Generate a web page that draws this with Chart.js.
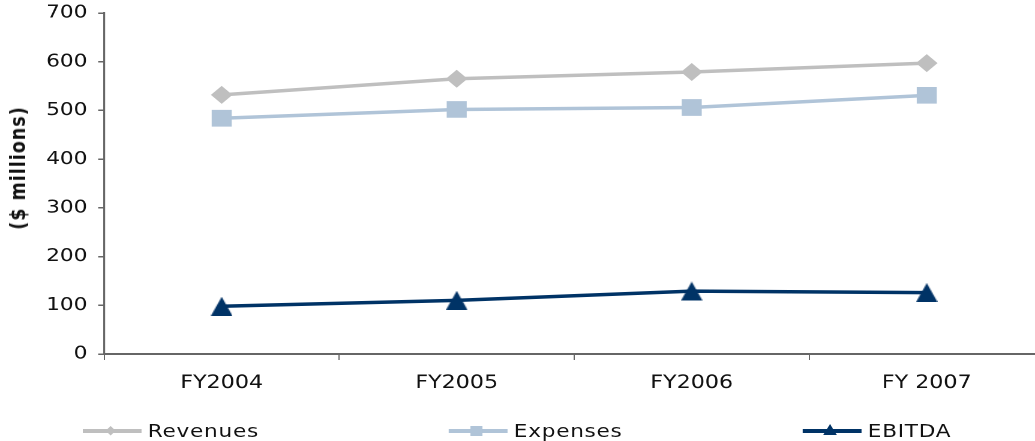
<!DOCTYPE html>
<html>
<head>
<meta charset="utf-8">
<script src="https://cdn.jsdelivr.net/npm/chart.js@4.4.1/dist/chart.umd.min.js"></script>
<style>
  html, body { margin: 0; padding: 0; background: #fff; overflow: hidden; width: 1035px; height: 441px; }
  /* the whole drawing is laid out narrow and widened by 1.2 */
  #wrap { position: absolute; left: 0; top: 0; width: 882px; height: 441px; transform: scaleX(1.2); transform-origin: 0 0; }
  #ytitle { position: absolute; left: 15.4px; top: 168px; transform: translate(-50%, -50%) rotate(-90deg);
            white-space: nowrap; font: bold 17.5px "DejaVu Sans", sans-serif; letter-spacing: 1px; color: #111; }
  .item { position: absolute; top: 430.5px; height: 0; }
  .item .ln { position: absolute; top: -2px; height: 4px; }
  .item svg { position: absolute; overflow: visible; }
  .item .tx { position: absolute; top: -11px; white-space: nowrap; font: 18px "DejaVu Sans", sans-serif;
              letter-spacing: 0.6px; color: #111; line-height: 22px; }
</style>
</head>
<body>
<div id="wrap">
  <canvas id="c" width="882" height="441"></canvas>
  <div id="ytitle">($ millions)</div>
  <div id="legend"></div>
</div>
<script>
// Fiscal years and series, $ millions
const categories = ['FY2004', 'FY2005', 'FY2006', 'FY 2007'];
const revenues = [532, 565, 579, 597];
const expenses = [484, 502, 506, 531];
const ebitda = [98, 110, 129, 126];
const seriesNames = ['Revenues', 'Expenses', 'EBITDA'];
const yMin = 0, yMax = 700, yStep = 100;

const COLORS = ['#bfbfbf', '#b0c4d8', '#003366'];
const FONT = '"DejaVu Sans", sans-serif';

// upright triangle centred on its bounding box
function triangleMarker(w, h, color) {
  const c = document.createElement('canvas');
  c.width = w; c.height = h;
  const g = c.getContext('2d');
  g.fillStyle = color;
  g.beginPath();
  g.moveTo(w / 2, 0); g.lineTo(w, h); g.lineTo(0, h);
  g.closePath(); g.fill();
  return c;
}

const ctx = document.getElementById('c');
new Chart(ctx, {
  type: 'line',
  data: {
    labels: categories,
    datasets: [
      { label: seriesNames[0], data: revenues, borderColor: COLORS[0], backgroundColor: COLORS[0],
        borderWidth: 3.5, pointStyle: 'rectRot', pointRadius: 9, pointBorderWidth: 0, tension: 0 },
      { label: seriesNames[1], data: expenses, borderColor: COLORS[1], backgroundColor: COLORS[1],
        borderWidth: 3.5, pointStyle: 'rect', pointRadius: 11.8, pointBorderWidth: 0, tension: 0 },
      { label: seriesNames[2], data: ebitda, borderColor: COLORS[2], backgroundColor: COLORS[2],
        borderWidth: 3.5, pointStyle: triangleMarker(18, 19, COLORS[2]), pointRadius: 10, pointBorderWidth: 0, tension: 0 }
    ]
  },
  options: {
    responsive: false,
    devicePixelRatio: 2,
    animation: false,
    events: [],
    layout: { padding: { top: 13, right: 2, left: 0, bottom: 0 } },
    plugins: { legend: { display: false }, tooltip: { enabled: false }, title: { display: false } },
    scales: {
      x: {
        type: 'category',
        offset: true,
        grid: { offset: true, drawOnChartArea: false, drawTicks: true, tickLength: 6, color: '#666', lineWidth: 1 },
        border: { display: true, color: '#666', width: 2 },
        ticks: { font: { family: FONT, size: 18.5 }, color: '#111', padding: 12, maxRotation: 0, autoSkip: false },
        afterFit(scale) { scale.height = 87; scale.paddingLeft = 0; scale.paddingRight = 0; }
      },
      y: {
        min: yMin, max: yMax,
        grid: { drawOnChartArea: false, drawTicks: true, tickLength: 5, color: '#666', lineWidth: 1.5 },
        border: { display: true, color: '#666', width: 1.6 },
        ticks: { stepSize: yStep, font: { family: FONT, size: 18 }, color: '#111', padding: 9 },
        afterFit(scale) { scale.width = 86.8; scale.paddingTop = 0; scale.paddingBottom = 0; }
      }
    }
  }
});

// legend row below the plot
const legendLayout = [
  { x: 69.2, marker: 'diamond' },
  { x: 374.2, marker: 'square' },
  { x: 669.2, marker: 'triangle' }
];
const markerSvg = {
  diamond: (c) => `<svg style="left:19.3px;top:-4.8px" width="8.4" height="9.6"><polygon points="4.2,0 8.4,4.8 4.2,9.6 0,4.8" fill="${c}"/></svg>`,
  square: (c) => `<svg style="left:18.3px;top:-5px" width="10" height="10"><rect width="10" height="10" fill="${c}"/></svg>`,
  triangle: (c) => `<svg style="left:17.1px;top:-6.5px" width="11.4" height="11"><polygon points="5.7,0 11.4,11 0,11" fill="${c}"/></svg>`
};
const legend = document.getElementById('legend');
seriesNames.forEach((name, i) => {
  const L = legendLayout[i];
  const el = document.createElement('div');
  el.className = 'item';
  el.style.left = L.x + 'px';
  el.innerHTML = `<div class="ln" style="left:0;width:49px;background:${COLORS[i]}"></div>` +
    markerSvg[L.marker](COLORS[i]) +
    `<div class="tx" style="left:54px">${name}</div>`;
  legend.appendChild(el);
});
</script>
</body>
</html>
